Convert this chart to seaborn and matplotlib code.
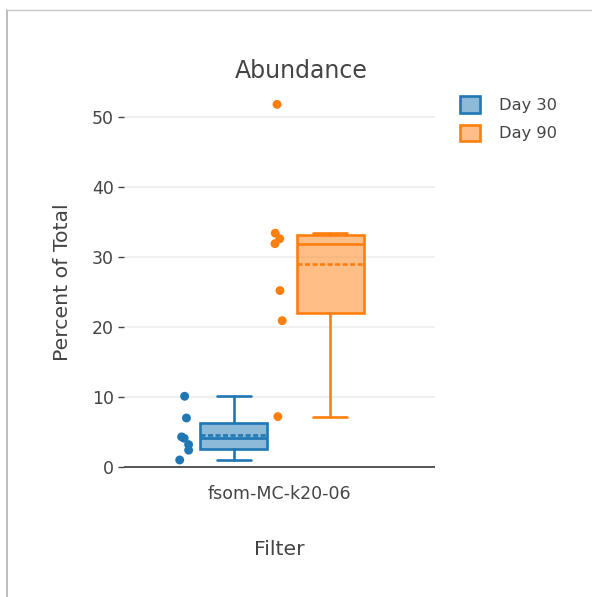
import numpy as np
import pandas as pd
import matplotlib
matplotlib.use("Agg")
import matplotlib.pyplot as plt
import seaborn as sns
from matplotlib.patches import Patch
from matplotlib.lines import Line2D

# Abundance of one filter, measured on two sampling days
filter_name = "fsom-MC-k20-06"
days = ["Day 30", "Day 90"]
day30_values = [10.1, 7.0, 4.3, 4.1, 3.2, 2.4, 1.0]
day90_values = [51.8, 33.4, 32.6, 31.9, 25.2, 20.9, 7.2]
day_colors = ["#1f77b4", "#ff7f0e"]
y_ticks = [0, 10, 20, 30, 40, 50]

TEXT = "#444444"

sns.set_theme(style="white")
plt.rcParams["font.family"] = ["DejaVu Sans"]

fig = plt.figure(figsize=(5.92, 5.97), dpi=100)
ax = fig.add_axes([0.2095, 0.1967, 0.5253, 0.6601])

series = [day30_values, day90_values]
box_pos = [-0.147, 0.163]
box_w = 0.215
pts_shift = -0.16
LW = 1.9


def box_stats(vals, label):
    v = np.asarray(vals, dtype=float)
    q1, med, q3 = np.percentile(v, [25, 50, 75], method="hazen")
    iqr = q3 - q1
    lo = v[v >= q1 - 1.5 * iqr].min()
    hi = v[v <= q3 + 1.5 * iqr].max()
    return dict(label=label, mean=v.mean(), med=med, q1=q1, q3=q3,
                whislo=lo, whishi=hi, fliers=[])


for vals, day, col, pos in zip(series, days, day_colors, box_pos):
    ax.bxp([box_stats(vals, day)], positions=[pos], widths=box_w,
           showfliers=False, showmeans=True, meanline=True, patch_artist=True,
           boxprops=dict(facecolor=matplotlib.colors.to_rgba(col, 0.5),
                         edgecolor=col, linewidth=LW),
           medianprops=dict(color=col, linewidth=LW),
           meanprops=dict(color=col, linewidth=LW, linestyle=(0, (1.9, 0.95))),
           whiskerprops=dict(color=col, linewidth=LW),
           capprops=dict(color=col, linewidth=LW),
           manage_ticks=False, zorder=3)

# all sample points, drawn beside each box
df = pd.DataFrame({
    "value": day30_values + day90_values,
    "day": [days[0]] * len(day30_values) + [days[1]] * len(day90_values),
})
df["xpos"] = df["day"].map({d: p + pts_shift for d, p in zip(days, box_pos)})

np.random.seed(3)
sns.stripplot(data=df, x="xpos", y="value", hue="day", hue_order=days,
              palette=dict(zip(days, day_colors)), native_scale=True,
              orient="x", jitter=0.06, size=6.4, linewidth=0, legend=False,
              ax=ax, zorder=4)

ax.set_xlim(-0.5, 0.5)
ax.set_ylim(-1.8, 54.5)
ax.set_xticks([0])
ax.set_xticklabels([filter_name])
ax.set_yticks(y_ticks)
ax.set_yticklabels([str(t) for t in y_ticks])

for s in ax.spines.values():
    s.set_visible(False)
ax.grid(axis="y", color="#eeeeee", linewidth=1.2)
ax.grid(axis="x", visible=False)
ax.set_axisbelow(True)
ax.axhline(0, color="#555555", linewidth=1.4, zorder=2)

ax.tick_params(axis="y", left=True, length=4.3, width=1, color=TEXT, pad=3,
               labelsize=12.5, labelcolor=TEXT)
ax.tick_params(axis="x", bottom=False, length=0, pad=4, labelsize=12.5,
               labelcolor=TEXT)

ax.set_xlabel("Filter", fontsize=14.7, color=TEXT)
ax.xaxis.label.set_va("center")
ax.xaxis.set_label_coords(0.5, -0.1786)
ax.set_ylabel("Percent of Total", fontsize=14.7, color=TEXT)
ax.yaxis.label.set_va("center")
ax.yaxis.set_label_coords(-0.199, 0.5)

fig.suptitle("Abundance", x=301 / 592, y=1 - 71 / 597, va="center",
             fontsize=17, color=TEXT)

handles = [Patch(facecolor=matplotlib.colors.to_rgba(c, 0.5), edgecolor=c,
                 linewidth=LW, label=d) for d, c in zip(days, day_colors)]
fig.legend(handles=handles, loc="upper left",
           bbox_to_anchor=(460 / 592, 1 - 96 / 597), frameon=False,
           fontsize=11.7, handlelength=1.23, handleheight=1.23,
           handletextpad=1.2, labelspacing=0.71, borderpad=0,
           borderaxespad=0, labelcolor=TEXT)

# thin frame along the top and left edges
fig.add_artist(Line2D([7.3 / 592, 7.3 / 592], [0, 1 - 10.3 / 597],
                      color="#b0b0b0", linewidth=1.2, transform=fig.transFigure))
fig.add_artist(Line2D([7.3 / 592, 1], [1 - 10.3 / 597, 1 - 10.3 / 597],
                      color="#c8c8c8", linewidth=1.0, transform=fig.transFigure))

fig.savefig("out.png", dpi=100)
